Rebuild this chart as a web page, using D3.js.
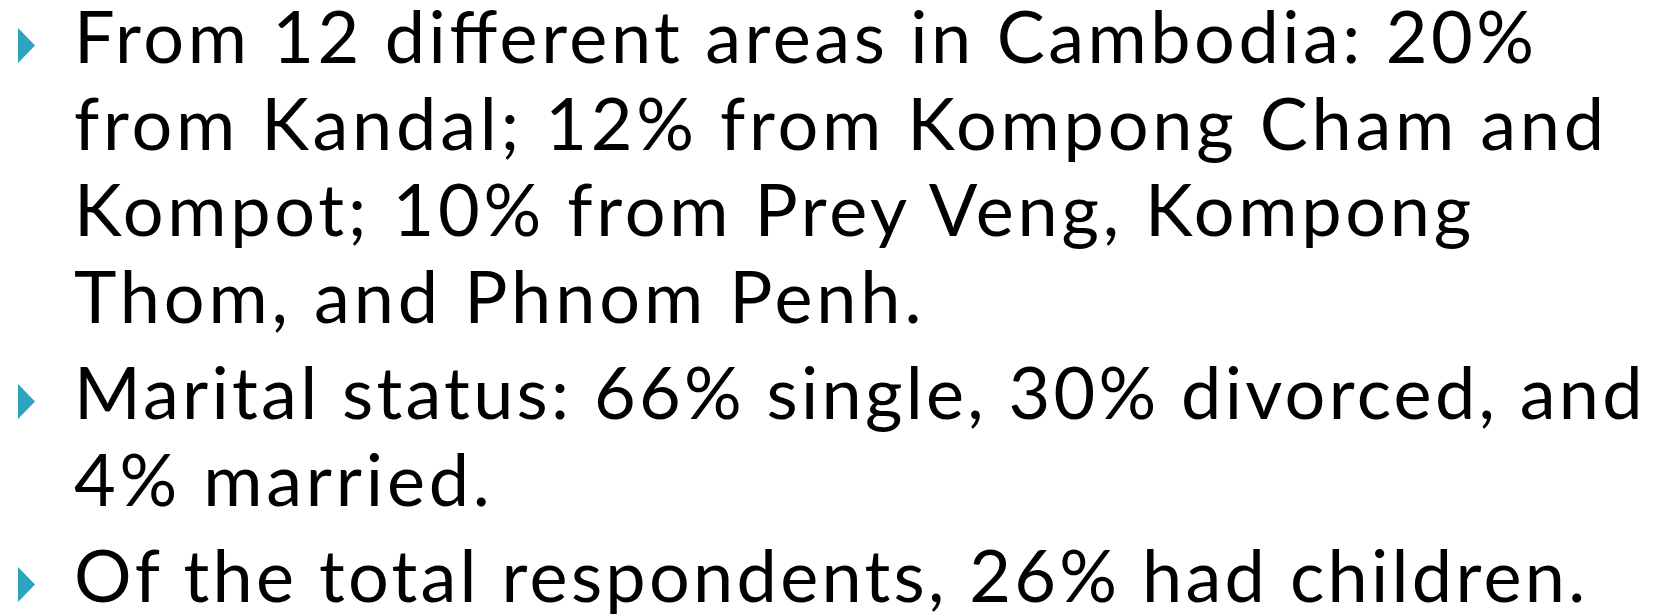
<!DOCTYPE html>
<html>
<head>
<meta charset="utf-8">
<script src="https://cdn.jsdelivr.net/npm/d3@7"></script>
<style>
  html, body { margin: 0; padding: 0; background: #fff; }
  svg { display: block; }
</style>
</head>
<body>
<div id="slide"></div>
<script>
'use strict';

// bullet text, one array of wrapped lines per bullet
var bulletOne = [
  'From 12 different areas in Cambodia: 20%',
  'from Kandal; 12% from Kompong Cham and',
  'Kompot; 10% from Prey Veng, Kompong',
  'Thom, and Phnom Penh.'
];
var bulletTwo = [
  'Marital status: 66% single, 30% divorced, and',
  '4% married.'
];
var bulletThree = [
  'Of the total respondents, 26% had children.'
];
var bullets = [bulletOne, bulletTwo, bulletThree];

var width = 1655;
var height = 615;

var dim = {
  textLeft: 74,
  firstBaseline: 63,
  lineStep: 86.5,
  paraExtra: 10,
  fontSize: 72,
  refLineWidth: 1460   // width of the first line in the reference
};

var svg = d3.select('#slide').append('svg')
  .attr('width', width)
  .attr('height', height);

svg.append('rect')
  .attr('width', '100%')
  .attr('height', '100%')
  .attr('fill', 'white');

// flatten into lines with their vertical position
var lines = [];
var y = dim.firstBaseline;
bullets.forEach(function(para, pi) {
  if (pi > 0) {
    y += dim.paraExtra;
  }
  para.forEach(function(txt, li) {
    lines.push({ text: txt, y: y, first: li === 0 });
    y += dim.lineStep;
  });
});

var g = svg.append('g');

g.selectAll('path.bullet')
  .data(lines.filter(function(d) { return d.first; }))
  .enter().append('path')
  .attr('class', 'bullet')
  .attr('fill', '#2ca3bf')
  .attr('d', function(d) {
    var b = d.y;
    return 'M18,' + (b - 35) + 'L35,' + (b - 17.5) + 'L18,' + b + 'Z';
  });

var texts = g.selectAll('text.line')
  .data(lines)
  .enter().append('text')
  .attr('class', 'line')
  .attr('x', dim.textLeft)
  .attr('y', function(d) { return d.y; })
  .style('font-family', 'Lato, "Open Sans", sans-serif')
  .style('font-size', dim.fontSize + 'px')
  .attr('fill', '#000')
  .text(function(d) { return d.text; });

// the slide font has wider tracking; stretch spacing uniformly to match
var firstWidth = texts.node().getComputedTextLength();
var k = dim.refLineWidth / firstWidth;
texts.each(function() {
  var w = this.getComputedTextLength();
  d3.select(this)
    .attr('textLength', w * k)
    .attr('lengthAdjust', 'spacing');
});
</script>
</body>
</html>
